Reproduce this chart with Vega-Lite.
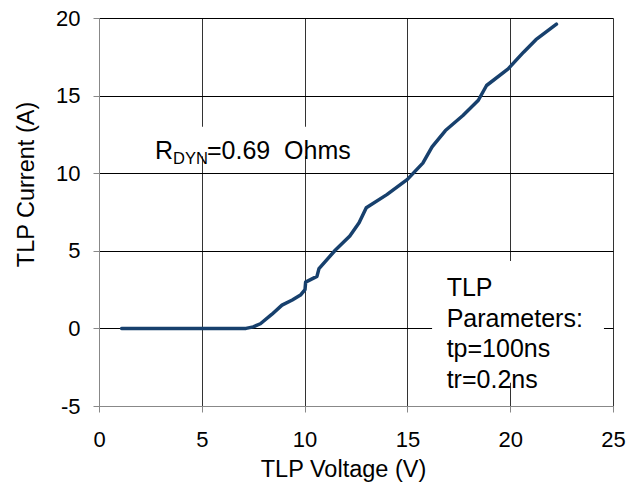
{
  "$schema": "https://vega.github.io/schema/vega-lite/v6.json",
  "width": 514,
  "height": 388,
  "autosize": {"type": "none"},
  "padding": {"left": 99, "top": 18, "right": 31, "bottom": 76},
  "background": "white",
  "config": {
    "view": {"stroke": null},
    "font": "Liberation Sans",
    "axis": {
      "labelFont": "Liberation Sans",
      "titleFont": "Liberation Sans",
      "labelColor": "#000",
      "titleColor": "#000",
      "titleFontWeight": "normal",
      "domainColor": "#888",
      "tickColor": "#888",
      "tickSize": 6,
      "gridWidth": 1,
      "labelFontSize": 22,
      "titleFontSize": 23.5
    }
  },
  "layer": [
    {
      "data": {"values": [{"box": "rdyn"}]},
      "mark": {"type": "rect", "fill": "white", "stroke": null},
      "encoding": {
        "x": {"datum": 2.5, "type": "quantitative"},
        "x2": {"datum": 12.5},
        "y": {"datum": 13.0, "type": "quantitative"},
        "y2": {"datum": 11.1}
      }
    },
    {
      "data": {"values": [{"box": "params"}]},
      "mark": {"type": "rect", "fill": "white", "stroke": null},
      "encoding": {
        "x": {"datum": 16.2, "type": "quantitative"},
        "x2": {"datum": 24.56},
        "y": {"datum": 4.34, "type": "quantitative"},
        "y2": {"datum": -3.5}
      }
    },
    {
      "data": {
        "values": [
          {"v": 1.1, "i": 0}, {"v": 2, "i": 0}, {"v": 3, "i": 0}, {"v": 4, "i": 0},
          {"v": 5, "i": 0}, {"v": 6, "i": 0}, {"v": 7.15, "i": 0}, {"v": 7.5, "i": 0.1},
          {"v": 7.85, "i": 0.3}, {"v": 8.4, "i": 0.9}, {"v": 8.9, "i": 1.5}, {"v": 9.4, "i": 1.83},
          {"v": 9.8, "i": 2.15}, {"v": 10.02, "i": 2.5}, {"v": 10.05, "i": 2.98}, {"v": 10.6, "i": 3.35},
          {"v": 10.7, "i": 3.85}, {"v": 11.5, "i": 5.05}, {"v": 12.2, "i": 5.95}, {"v": 12.65, "i": 6.8},
          {"v": 13.0, "i": 7.77}, {"v": 14.0, "i": 8.62}, {"v": 15.0, "i": 9.6}, {"v": 15.75, "i": 10.65},
          {"v": 16.2, "i": 11.7}, {"v": 16.85, "i": 12.75}, {"v": 17.7, "i": 13.72}, {"v": 18.45, "i": 14.7},
          {"v": 18.85, "i": 15.65}, {"v": 19.9, "i": 16.72}, {"v": 20.65, "i": 17.8}, {"v": 21.25, "i": 18.6},
          {"v": 22.25, "i": 19.6}
        ]
      },
      "mark": {"type": "line", "color": "#17406d", "strokeWidth": 3.5, "strokeCap": "round", "strokeJoin": "round"},
      "encoding": {
        "x": {
          "field": "v",
          "type": "quantitative",
          "scale": {"domain": [0, 25], "nice": false, "zero": false},
          "axis": {
            "values": [0, 5, 10, 15, 20, 25],
            "grid": true,
            "gridColor": {"condition": {"test": "datum.value === 0", "value": "#888"}, "value": "#333"},
            "labelExpr": "datum.value + ''",
            "labelBaseline": "alphabetic",
            "labelPadding": 34,
            "labelFlush": false,
            "title": "TLP Voltage (V)",
            "titleX": 244,
            "titleY": 70,
            "titleAlign": "center",
            "titleBaseline": "alphabetic",
            "titleAnchor": null
          }
        },
        "y": {
          "field": "i",
          "type": "quantitative",
          "scale": {"domain": [-5, 20], "nice": false, "zero": false},
          "axis": {
            "values": [-5, 0, 5, 10, 15, 20],
            "grid": true,
            "gridColor": {"condition": {"test": "datum.value === -5", "value": "#888"}, "value": "#000"},
            "labelExpr": "datum.value + ''",
            "labelPadding": 13,
            "labelFlush": false,
            "title": "TLP Current (A)",
            "titleX": -66,
            "titleY": 166,
            "titleAngle": -90,
            "titleAlign": "center",
            "titleBaseline": "alphabetic",
            "titleAnchor": null
          }
        }
      }
    },
    {
      "data": {"values": [{"label": "R"}]},
      "mark": {"type": "text", "align": "left", "baseline": "alphabetic", "fontSize": 25, "font": "Liberation Sans", "color": "#000"},
      "encoding": {
        "x": {"datum": 2.72, "type": "quantitative"},
        "y": {"datum": 10.9, "type": "quantitative"},
        "text": {"field": "label"}
      }
    },
    {
      "data": {"values": [{"label": "DYN"}]},
      "mark": {"type": "text", "align": "left", "baseline": "alphabetic", "fontSize": 16.5, "font": "Liberation Sans", "color": "#000"},
      "encoding": {
        "x": {"datum": 3.6, "type": "quantitative"},
        "y": {"datum": 10.59, "type": "quantitative"},
        "text": {"field": "label"}
      }
    },
    {
      "data": {"values": [{"label": "=0.69\u00a0 Ohms"}]},
      "mark": {"type": "text", "align": "left", "baseline": "alphabetic", "fontSize": 25, "font": "Liberation Sans", "color": "#000"},
      "encoding": {
        "x": {"datum": 5.25, "type": "quantitative"},
        "y": {"datum": 10.9, "type": "quantitative"},
        "text": {"field": "label"}
      }
    },
    {
      "data": {"values": [{"label": ["TLP", "Parameters:", "tp=100ns", "tr=0.2ns"]}]},
      "mark": {"type": "text", "align": "left", "baseline": "alphabetic", "fontSize": 25, "lineHeight": 30.7, "font": "Liberation Sans", "color": "#000"},
      "encoding": {
        "x": {"datum": 16.91, "type": "quantitative"},
        "y": {"datum": 2.09, "type": "quantitative"},
        "text": {"field": "label"}
      }
    }
  ]
}
